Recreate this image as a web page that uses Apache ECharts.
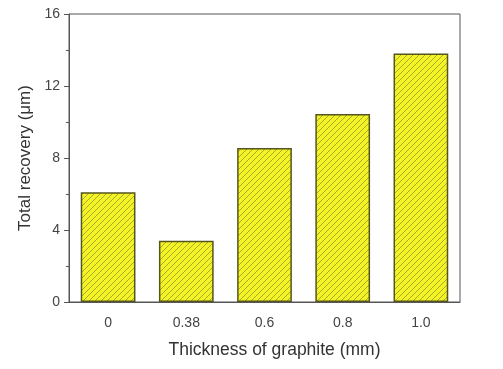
<!DOCTYPE html>
<html><head><meta charset="utf-8">
<script src="https://cdn.jsdelivr.net/npm/echarts@6/dist/echarts.min.js"></script>
<style>html,body{margin:0;padding:0;background:#fff}#c{width:503px;height:369px}</style>
</head><body><div id="c"></div>
<script>
const categories = ['0', '0.38', '0.6', '0.8', '1.0'];
const recovery = [6.1, 3.4, 8.55, 10.45, 13.8];
const yTicks = [0, 4, 8, 12, 16];

function hatch() {
  const s = 6;
  const cv = document.createElement('canvas');
  cv.width = s; cv.height = s;
  const g = cv.getContext('2d');
  g.fillStyle = '#f4f424';
  g.fillRect(0, 0, s, s);
  g.strokeStyle = '#a8a832';
  g.lineWidth = 1;
  g.beginPath();
  g.moveTo(0, s); g.lineTo(s, 0);
  g.moveTo(-s/2, s/2); g.lineTo(s/2, -s/2);
  g.moveTo(s/2, s + s/2); g.lineTo(s + s/2, s/2);
  g.stroke();
  return cv;
}

const chart = echarts.init(document.getElementById('c'));
const axisCol = '#555';
chart.setOption({
  animation: false,
  grid: { left: 69, right: 43, top: 14, bottom: 67, show: true, borderColor: axisCol, borderWidth: 1, backgroundColor: 'transparent' },
  xAxis: [{
    type: 'category', data: categories, position: 'bottom',
    name: 'Thickness of graphite (mm)', nameLocation: 'middle', nameGap: 39,
    nameTextStyle: { fontFamily: 'Liberation Sans', fontSize: 17.5, color: '#333', padding: [0, 0, 0, 20] },
    axisLine: { lineStyle: { color: axisCol, width: 1 } },
    axisTick: { alignWithLabel: true, length: 5, inside: false, lineStyle: { color: axisCol } },
    axisLabel: { fontFamily: 'Liberation Sans', fontSize: 14, color: '#444', margin: 14 }
  }, {
    type: 'category', data: categories, position: 'bottom',
    axisLine: { show: false },
    axisTick: { alignWithLabel: false, length: 3, lineStyle: { color: axisCol } },
    axisLabel: { show: false }
  }],
  yAxis: {
    type: 'value', min: 0, max: 16, interval: 4,
    name: 'Total recovery (μm)', nameLocation: 'middle', nameGap: 35,
    nameTextStyle: { fontFamily: 'Liberation Sans', fontSize: 17, color: '#333' },
    axisLine: { show: true, lineStyle: { color: axisCol, width: 1 } },
    axisTick: { show: true, length: 5, lineStyle: { color: axisCol } },
    minorTick: { show: true, splitNumber: 2, length: 3, lineStyle: { color: axisCol } },
    splitLine: { show: false },
    axisLabel: { fontFamily: 'Liberation Sans', fontSize: 14, color: '#444', margin: 9,
      formatter: v => yTicks.includes(v) ? String(v) : '' }
  },
  series: [{
    type: 'bar', data: recovery, barWidth: '70%',
    itemStyle: { color: { image: hatch(), repeat: 'repeat' }, borderColor: '#55551e', borderWidth: 1.5 }
  }]
});
</script></body></html>
